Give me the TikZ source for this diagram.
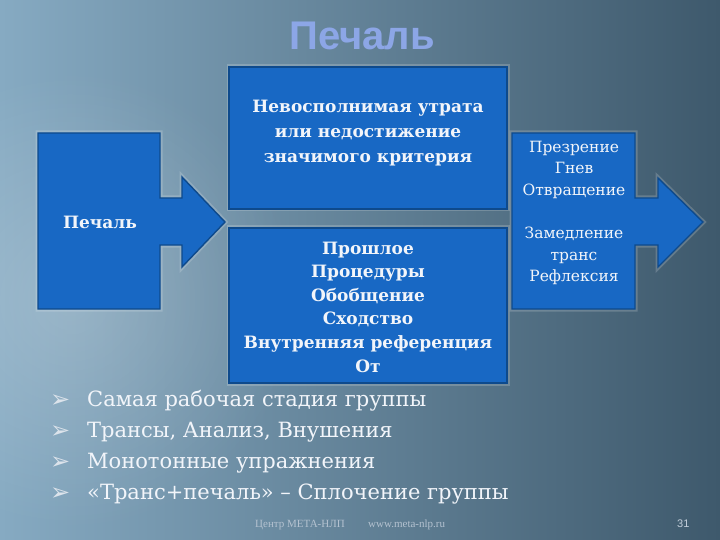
\documentclass[tikz,border=0pt]{standalone}
\usepackage{fontspec}
\setmainfont{DejaVu Serif}
\newfontfamily\titlefont{Liberation Sans}
\newfontfamily\symfont{DejaVu Sans}
\newfontfamily\footfont{Liberation Serif}
\usetikzlibrary{fadings}
\tikzfading[name=glowfade, inner color=transparent!0, outer color=transparent!100]
\definecolor{bgL}{HTML}{86AAC2}
\definecolor{bgM}{HTML}{5F8096}
\definecolor{bgR}{HTML}{3E596C}
\definecolor{boxfill}{HTML}{1868C4}
\definecolor{boxedge}{HTML}{0E4A8C}
\definecolor{titleblue}{HTML}{8CA6E6}
\definecolor{txt}{HTML}{F2F5FA}
\definecolor{foot}{HTML}{B4C2D0}
\begin{document}
\begin{tikzpicture}[x=1pt,y=-1pt,
  blockbox/.style={fill=boxfill,draw=boxedge,line width=1.4pt,line join=miter},
  halo/.style={draw=white,draw opacity=0.18,line width=5pt,line join=miter},
  boxtext/.style={text=txt,align=center,inner sep=0pt},
  bullettext/.style={anchor=base west,inner sep=0pt,text=txt,font=\fontsize{21}{25}\selectfont},
  bulletmark/.style={anchor=base west,inner sep=0pt,text=txt!85!bgM,font=\symfont\fontsize{24}{26}\selectfont},
  foottext/.style={anchor=base west,inner sep=0pt,text=foot,font=\footfont\fontsize{11}{13}\selectfont}]
\useasboundingbox (0,0) rectangle (720,540);
% background
\shade[left color=bgL,middle color=bgM,right color=bgR] (0,0) rectangle (720,540);
\fill[white,fill opacity=0.2,path fading=glowfade] (70,300) circle (230);
% title
\node[text=titleblue,font=\titlefont\bfseries\fontsize{40}{44}\selectfont] (title) at (362,36) {Печаль};
% left arrow box
\path[halo] (38,133) -- (160,133) -- (160,198) -- (182,198) -- (182,177) -- (225,222) -- (182,267) -- (182,245) -- (160,245) -- (160,309) -- (38,309) -- cycle;
\path[blockbox] (38,133) -- (160,133) -- (160,198) -- (182,198) -- (182,177) -- (225,222) -- (182,267) -- (182,245) -- (160,245) -- (160,309) -- (38,309) -- cycle;
\node[boxtext,font=\bfseries\fontsize{17}{20}\selectfont] (left) at (100,222) {Печаль};
% middle boxes
\path[halo] (229,67) rectangle (507,209);
\path[blockbox] (229,67) rectangle (507,209);
\node[boxtext,font=\bfseries\fontsize{17}{25}\selectfont] (top) at (368,133) {Невосполнимая утрата\\или недостижение\\значимого критерия};
\path[halo] (229,228) rectangle (507,383);
\path[blockbox] (229,228) rectangle (507,383);
\node[boxtext,font=\bfseries\fontsize{17}{23.6}\selectfont] (bottom) at (368,307) {Прошлое\\Процедуры\\Обобщение\\Сходство\\Внутренняя референция\\От};
% right arrow box
\path[halo] (512,133) -- (635,133) -- (635,198) -- (658,198) -- (658,178) -- (703,222) -- (658,267) -- (658,245) -- (635,245) -- (635,309) -- (512,309) -- cycle;
\path[blockbox] (512,133) -- (635,133) -- (635,198) -- (658,198) -- (658,178) -- (703,222) -- (658,267) -- (658,245) -- (635,245) -- (635,309) -- (512,309) -- cycle;
\node[boxtext,font=\fontsize{15.5}{21.6}\selectfont] (right) at (574,213) {Презрение\\Гнев\\Отвращение\\[21.6pt]Замедление\\транс\\Рефлексия};
% bullets
\node[bulletmark] (b1) at (50,407) {➢};
\node[bulletmark] (b2) at (50,438) {➢};
\node[bulletmark] (b3) at (50,469) {➢};
\node[bulletmark] (b4) at (50,500) {➢};
\node[bullettext] (t1) at (87,406) {Самая рабочая стадия группы};
\node[bullettext] (t2) at (87,437) {Трансы, Анализ, Внушения};
\node[bullettext] (t3) at (87,468) {Монотонные упражнения};
\node[bullettext] (t4) at (87,499) {«Транс+печаль» – Сплочение группы};
% footer
\node[foottext] (f1) at (255,527) {Центр МЕТА-НЛП};
\node[foottext] (f2) at (368,527) {www.meta-nlp.ru};
\node[foottext,font=\titlefont\fontsize{11}{13}\selectfont,text=foot!80!white] (pg) at (677,527) {31};
\end{tikzpicture}
\end{document}
